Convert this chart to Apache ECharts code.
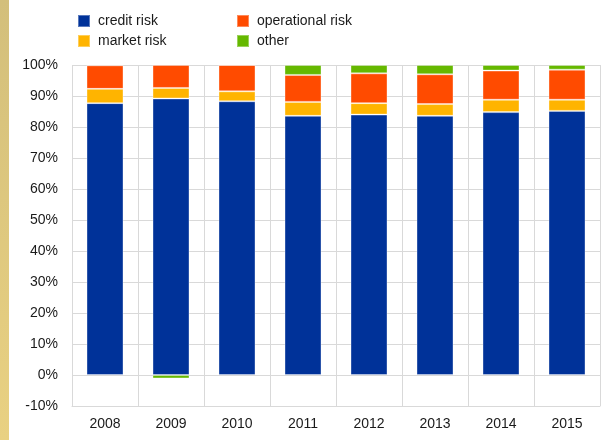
<!DOCTYPE html>
<html>
<head>
<meta charset="utf-8">
<script src="https://cdn.jsdelivr.net/npm/echarts@6/dist/echarts.min.js"></script>
<style>
  html, body { margin: 0; padding: 0; background: #fff; }
  #stripe { position: absolute; left: 0; top: 0; width: 9px; height: 440px;
    background: linear-gradient(#d3bf7b, #e9d182); }
  #chart { width: 606px; height: 440px; }
</style>
</head>
<body>
<div id="stripe"></div>
<div id="chart"></div>
<script>
const years = ['2008', '2009', '2010', '2011', '2012', '2013', '2014', '2015'];
const creditRisk = [87.7, 89.2, 88.3, 83.6, 84.0, 83.6, 84.8, 85.2];
const marketRisk = [4.6, 3.4, 3.2, 4.5, 3.7, 3.8, 4.0, 3.6];
const operationalRisk = [7.6, 7.4, 8.5, 8.7, 9.6, 9.6, 9.4, 9.7];
const other = [0.1, -1.1, 0, 3.2, 2.7, 3.0, 1.8, 1.5];

const colors = {
  'credit risk': '#003299',
  'market risk': '#FFB400',
  'operational risk': '#FF4B00',
  'other': '#65B800'
};

const labelFont = { fontFamily: 'Liberation Sans, Arial, sans-serif', fontSize: 14, color: '#1a1a1a' };

function legendAt(name, left, top) {
  return {
    data: [name], left: left, top: top,
    icon: 'rect', itemWidth: 12, itemHeight: 12,
    selectedMode: false,
    textStyle: Object.assign({ padding: [0, 0, 0, 3] }, labelFont)
  };
}

function bar(name, values) {
  return {
    name: name, type: 'bar', stack: 'total', data: values,
    barWidth: 37,
    itemStyle: { color: colors[name], borderColor: 'rgba(255,255,255,0.35)', borderWidth: 1 }
  };
}

const chart = echarts.init(document.getElementById('chart'));
chart.setOption({
  animation: false,
  legend: [
    legendAt('credit risk', 72, 9),
    legendAt('operational risk', 231, 9),
    legendAt('market risk', 72, 29),
    legendAt('other', 231, 29)
  ],
  grid: { left: 72, right: 6, top: 65, bottom: 34 },
  xAxis: {
    type: 'category', data: years,
    axisLine: { onZero: false, lineStyle: { color: '#d9d9d9' } },
    axisTick: { show: false },
    axisLabel: Object.assign({ margin: 11 }, labelFont),
    splitLine: { show: true, interval: 0, lineStyle: { color: '#d9d9d9' } }
  },
  yAxis: {
    type: 'value', min: -10, max: 100, interval: 10,
    axisLine: { show: false },
    axisTick: { show: false },
    axisLabel: Object.assign({ margin: 14, formatter: '{value}%' }, labelFont),
    splitLine: { lineStyle: { color: '#d9d9d9' } }
  },
  series: [
    bar('credit risk', creditRisk),
    bar('market risk', marketRisk),
    bar('operational risk', operationalRisk),
    bar('other', other)
  ]
});
</script>
</body>
</html>
